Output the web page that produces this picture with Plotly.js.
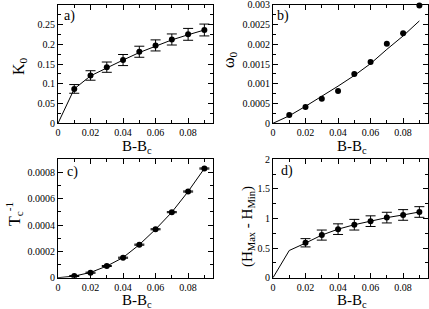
<!DOCTYPE html>
<html>
<head>
<meta charset="utf-8">
<script src="https://cdn.plot.ly/plotly-3.0.1.min.js"></script>
<style>html,body{margin:0;padding:0;background:#fff;}#chart{width:429px;height:309px;}</style>
</head>
<body>
<div id="chart"></div>
<script>
// ---- data ----
const dB = [0.01, 0.02, 0.03, 0.04, 0.05, 0.06, 0.07, 0.08, 0.09];
const fitB = [0, 0.01, 0.02, 0.03, 0.04, 0.05, 0.06, 0.07, 0.08, 0.09];

// a) K0
const kappa0 = [0.087, 0.121, 0.142, 0.160, 0.181, 0.197, 0.212, 0.225, 0.236];
const kappa0Err = [0.011, 0.012, 0.013, 0.014, 0.014, 0.014, 0.014, 0.015, 0.015];
const kappa0Fit = [0, 0.087, 0.120, 0.141, 0.160, 0.179, 0.196, 0.211, 0.224, 0.236];

// b) omega0
const omega0 = [0.00021, 0.00041, 0.00062, 0.00082, 0.00125, 0.00155, 0.00201, 0.00228, 0.00298];
const omega0Fit = [0, 0.00019, 0.00043, 0.00068, 0.00094, 0.00121, 0.00151, 0.00187, 0.00221, 0.00259];

// c) 1/Tc
const invTc = [0.000013, 0.000038, 0.000089, 0.000152, 0.000251, 0.000368, 0.000498, 0.000655, 0.00083];
const invTcErr = [0.000004, 0.000004, 0.000004, 0.000004, 0.000004, 0.000004, 0.000004, 0.000004, 0.000004];
const invTcFit = [0, 0.000012, 0.000040, 0.000088, 0.000153, 0.000251, 0.000368, 0.000498, 0.000655, 0.00083];

// d) Hmax - Hmin
const dBd = [0.02, 0.03, 0.04, 0.05, 0.06, 0.07, 0.08, 0.09];
const dH = [0.59, 0.72, 0.82, 0.895, 0.955, 1.015, 1.06, 1.11];
const dHErr = [0.07, 0.085, 0.09, 0.09, 0.09, 0.09, 0.09, 0.09];
const dHFit = [0, 0.46, 0.585, 0.72, 0.82, 0.895, 0.955, 1.015, 1.06, 1.11];

// tick labels
const kTicks = [0, 0.05, 0.1, 0.15, 0.2, 0.25];
const wTicks = [0, 0.0005, 0.001, 0.0015, 0.002, 0.0025, 0.003];
const xTicks = [0, 0.02, 0.04, 0.06, 0.08];

// ---- layout helpers ----
const W = 429, H = 309;
const px = v => v / W;
const py = v => 1 - v / H;
const serif = 'Liberation Serif, Times New Roman, serif';

const colA = [px(58), px(212.5)];
const colB = [px(273), px(427.5)];
const rowTop = [py(123.3), py(4.7)];
const rowBot = [py(277.7), py(159.3)];

function xax(domain, anchor) {
  return {
    domain: domain, anchor: anchor, range: [0, 0.095],
    tickmode: 'array', tickvals: xTicks,
    showline: true, linecolor: 'black', linewidth: 1, mirror: 'ticks',
    ticks: 'inside', ticklen: 5, tickcolor: 'black', tickwidth: 1,
    minor: {ticks: 'inside', ticklen: 3, tickcolor: 'black', tick0: 0, dtick: 0.01, showgrid: false},
    showgrid: false, zeroline: false,
    tickfont: {family: serif, size: 10, color: 'black'}, exponentformat: 'none'
  };
}
function yax(domain, anchor, range, dtick, mdtick, extra) {
  return Object.assign({
    domain: domain, anchor: anchor, range: range,
    tick0: 0, dtick: dtick,
    showline: true, linecolor: 'black', linewidth: 1, mirror: 'ticks',
    ticks: 'inside', ticklen: 5, tickcolor: 'black', tickwidth: 1,
    minor: {ticks: 'inside', ticklen: 3, tickcolor: 'black', tick0: 0, dtick: mdtick, showgrid: false},
    showgrid: false, zeroline: false, ticklabeloverflow: 'allow',
    tickfont: {family: serif, size: 10, color: 'black'}, exponentformat: 'none'
  }, extra || {});
}

const marker = {color: 'black', size: 6};
const lineStyle = {color: 'black', width: 1};

const traces = [
  {x: fitB, y: kappa0Fit, mode: 'lines', line: lineStyle, xaxis: 'x', yaxis: 'y'},
  {x: dB, y: kappa0, mode: 'markers', marker: marker, xaxis: 'x', yaxis: 'y',
   error_y: {type: 'data', array: kappa0Err, color: 'black', thickness: 1, width: 5}},
  {x: fitB, y: omega0Fit, mode: 'lines', line: lineStyle, xaxis: 'x2', yaxis: 'y2'},
  {x: dB, y: omega0, mode: 'markers', marker: marker, xaxis: 'x2', yaxis: 'y2', cliponaxis: false},
  {x: fitB, y: invTcFit, mode: 'lines', line: lineStyle, xaxis: 'x3', yaxis: 'y3'},
  {x: dB, y: invTc, mode: 'markers', marker: marker, xaxis: 'x3', yaxis: 'y3',
   error_y: {type: 'data', array: invTcErr, color: 'black', thickness: 1, width: 5}},
  {x: fitB, y: dHFit, mode: 'lines', line: lineStyle, xaxis: 'x4', yaxis: 'y4'},
  {x: dBd, y: dH, mode: 'markers', marker: marker, xaxis: 'x4', yaxis: 'y4',
   error_y: {type: 'data', array: dHErr, color: 'black', thickness: 1, width: 5}}
];

function ann(text, x, y, size, angle) {
  return {text: text, xref: 'paper', yref: 'paper', x: px(x), y: py(y),
    xanchor: 'center', yanchor: 'middle', showarrow: false, textangle: angle || 0,
    font: {family: serif, size: size, color: 'black'}};
}

const layout = {
  width: W, height: H, margin: {l: 0, r: 0, t: 0, b: 0},
  paper_bgcolor: 'white', plot_bgcolor: 'white', showlegend: false,
  xaxis: xax(colA, 'y'),
  yaxis: yax(rowTop, 'x', [0, 0.3], 0.05, 0.025, {tickmode: 'array', tickvals: kTicks}),
  xaxis2: xax(colB, 'y2'),
  yaxis2: yax(rowTop, 'x2', [0, 0.0030001], 0.0005, 0.00025, {tickmode: 'array', tickvals: wTicks}),
  xaxis3: xax(colA, 'y3'),
  yaxis3: yax(rowBot, 'x3', [0, 0.0009], 0.0002, 0.0001),
  xaxis4: xax(colB, 'y4'),
  yaxis4: yax(rowBot, 'x4', [0, 2], 0.5, 0.25),
  annotations: [
    ann('a)', 69, 16, 14), ann('b)', 283, 16, 14), ann('c)', 72, 172, 14), ann('d)', 287, 171, 14),
    ann('B-B<sub>c</sub>', 137, 147, 15), ann('B-B<sub>c</sub>', 352, 147, 15),
    ann('B-B<sub>c</sub>', 137, 301, 15), ann('B-B<sub>c</sub>', 352, 301, 15),
    ann('K<sub>0</sub>', 19, 66, 16, -90),
    ann('ω<sub>0</sub>', 229, 60, 16, -90),
    ann('T<sub>c</sub><sup>-1</sup>', 14, 214, 16, -90),
    ann('(H<sub>Max</sub> - H<sub>Min</sub>)', 248, 226, 15, -90)
  ]
};

Plotly.newPlot('chart', traces, layout, {staticPlot: true, displayModeBar: false});
</script>
</body>
</html>
